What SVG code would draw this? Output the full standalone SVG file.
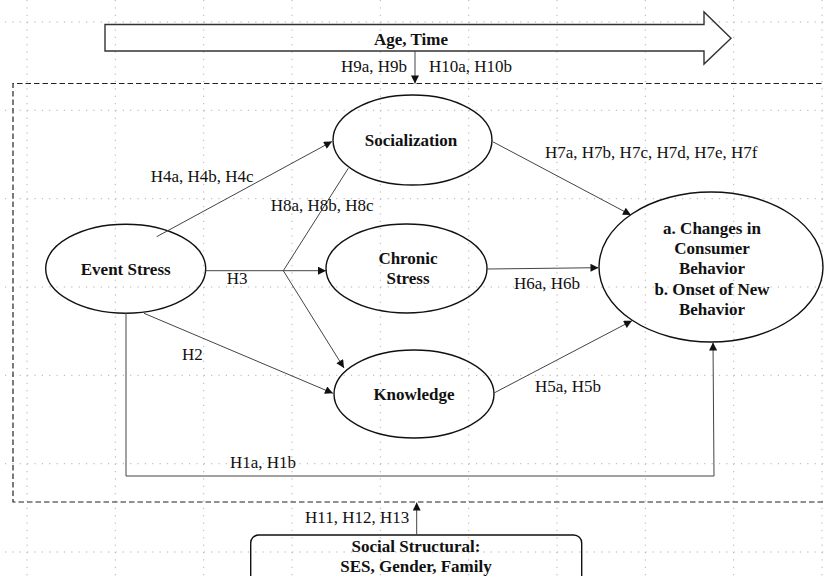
<svg xmlns="http://www.w3.org/2000/svg" width="824" height="576" viewBox="0 0 824 576" font-family="Liberation Serif, Times New Roman, Times, DejaVu Serif, serif">
<style>
.grid{stroke:#b0b0b0;stroke-width:1;stroke-dasharray:1.2 6.16;fill:none}
.node{fill:none;stroke:#111;stroke-width:1.4}
.conn{fill:none;stroke:#444;stroke-width:1}
.lbl{font-size:17px;fill:#111}
.bold{font-size:17px;font-weight:bold;fill:#111;text-anchor:middle}
</style>
<defs>
<marker id="ah" viewBox="0 0 10 10" refX="10" refY="5" markerWidth="9" markerHeight="8" markerUnits="userSpaceOnUse" orient="auto">
<path d="M0,0 L10,5 L0,10 z" fill="#111"/>
</marker>
</defs>
<rect width="824" height="576" fill="#fff"/>
<g id="grid" class="grid">
<path d="M27,0V576M115.3,0V576M203.7,0V576M292,0V576M380.3,0V576M468.7,0V576M557,0V576M645.3,0V576M733.7,0V576M822,0V576"/>
<path d="M5,22H824M5,110.3H824M5,198.7H824M5,287H824M5,375.3H824M5,463.7H824M5,552H824"/>
</g>
<g id="age-time">
<polygon class="node" points="105,24.5 704,24.5 704,12 731,38.3 704,64 704,51 105,51" style="stroke:#333"/>
<text class="bold" x="411" y="45">Age, Time</text>
</g>
<g id="moderation-box">
<path d="M830,83.5H13V502H830" fill="none" stroke="#222" stroke-width="1.2" stroke-dasharray="5.5 3"/>
</g>
<g id="event-stress">
<ellipse class="node" cx="125.7" cy="268.7" rx="80" ry="44.5"/>
<text class="bold" x="125.7" y="274.5">Event Stress</text>
</g>
<g id="socialization">
<ellipse class="node" cx="412.5" cy="140" rx="79.5" ry="45"/>
<text class="bold" x="411" y="146">Socialization</text>
</g>
<g id="chronic-stress">
<ellipse class="node" cx="406.5" cy="268.5" rx="80.5" ry="44.5"/>
<text class="bold" x="408" y="264">Chronic</text>
<text class="bold" x="408" y="284">Stress</text>
</g>
<g id="knowledge">
<ellipse class="node" cx="414" cy="394" rx="80" ry="44"/>
<text class="bold" x="414" y="400">Knowledge</text>
</g>
<g id="outcome">
<ellipse class="node" cx="711" cy="267" rx="112" ry="75"/>
<text class="bold" x="712" y="234">a. Changes in</text>
<text class="bold" x="712" y="254">Consumer</text>
<text class="bold" x="712" y="274">Behavior</text>
<text class="bold" x="712" y="295">b. Onset of New</text>
<text class="bold" x="712" y="315">Behavior</text>
</g>
<g id="social-structural">
<rect class="node" x="250.7" y="535" width="331" height="60" rx="8"/>
<text class="bold" x="416" y="552">Social Structural:</text>
<text class="bold" x="416" y="572">SES, Gender, Family</text>
</g>
<g id="connectors">
<line class="conn" x1="156.7" y1="236.7" x2="332" y2="141.5" marker-end="url(#ah)"/>
<line class="conn" x1="205.7" y1="270.7" x2="326" y2="270.7" marker-end="url(#ah)"/>
<line class="conn" x1="348.3" y1="168.3" x2="283.3" y2="270.7"/>
<line class="conn" x1="283.3" y1="270.7" x2="344" y2="368" marker-end="url(#ah)"/>
<line class="conn" x1="144" y1="313.3" x2="333" y2="393.3" marker-end="url(#ah)"/>
<polyline class="conn" points="126,313 126,476 714,476 713,342.5" marker-end="url(#ah)"/>
<line class="conn" x1="492.7" y1="141.7" x2="631" y2="215" marker-end="url(#ah)"/>
<line class="conn" x1="487" y1="269" x2="598.5" y2="267.7" marker-end="url(#ah)"/>
<line class="conn" x1="494" y1="393" x2="632" y2="320.7" marker-end="url(#ah)"/>
<line class="conn" x1="415" y1="51" x2="415" y2="83.5" marker-end="url(#ah)"/>
<line class="conn" x1="416.7" y1="535" x2="416.7" y2="502.5" marker-end="url(#ah)"/>
</g>
<g id="labels">
<text class="lbl" x="150.7" y="181.7">H4a, H4b, H4c</text>
<text class="lbl" x="270.7" y="211">H8a, H8b, H8c</text>
<text class="lbl" x="226.7" y="284">H3</text>
<text class="lbl" x="545" y="158">H7a, H7b, H7c, H7d, H7e, H7f</text>
<text class="lbl" x="514" y="289">H6a, H6b</text>
<text class="lbl" x="182" y="360">H2</text>
<text class="lbl" x="535" y="391.5">H5a, H5b</text>
<text class="lbl" x="230" y="468">H1a, H1b</text>
<text class="lbl" x="305" y="523">H11, H12, H13</text>
<text class="lbl" x="407" y="71.5" text-anchor="end">H9a, H9b</text>
<text class="lbl" x="429" y="71.5">H10a, H10b</text>
</g>
</svg>
